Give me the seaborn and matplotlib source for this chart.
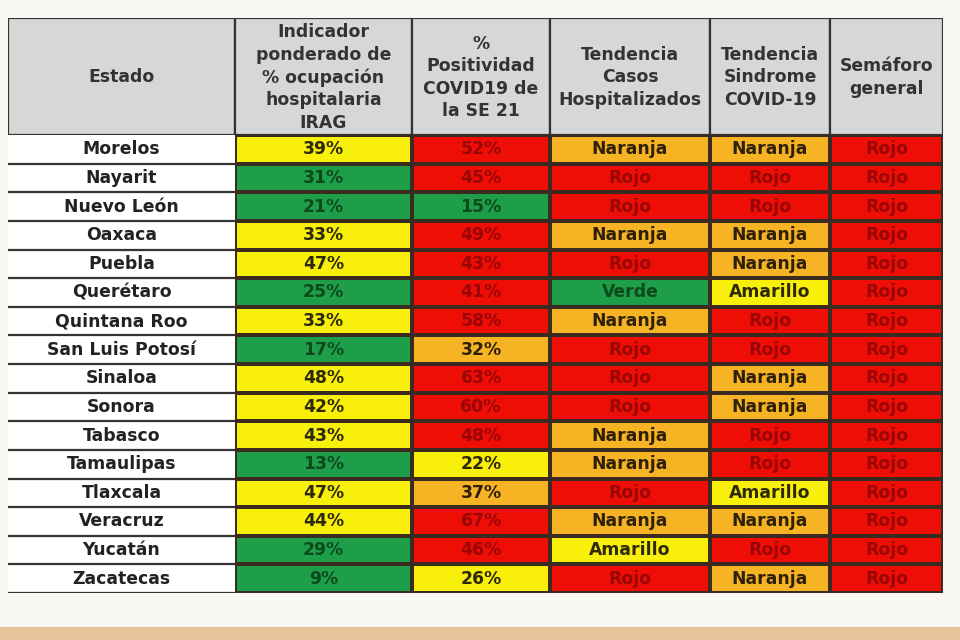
import numpy as np
import pandas as pd
import matplotlib
matplotlib.use("Agg")
import matplotlib.pyplot as plt
from matplotlib.colors import ListedColormap
from matplotlib.patches import Rectangle
import seaborn as sns

sns.set_theme(style="white")
plt.rcParams["font.family"] = ["DejaVu Sans"]

# ---------------- data ----------------
estados = ["Morelos", "Nayarit", "Nuevo León", "Oaxaca", "Puebla", "Querétaro",
           "Quintana Roo", "San Luis Potosí", "Sinaloa", "Sonora", "Tabasco",
           "Tamaulipas", "Tlaxcala", "Veracruz", "Yucatán", "Zacatecas"]
ocupacion = [39, 31, 21, 33, 47, 25, 33, 17, 48, 42, 43, 13, 47, 44, 29, 9]
ocupacion_nivel = ["Amarillo", "Verde", "Verde", "Amarillo", "Amarillo", "Verde",
                   "Amarillo", "Verde", "Amarillo", "Amarillo", "Amarillo", "Verde",
                   "Amarillo", "Amarillo", "Verde", "Verde"]
positividad = [52, 45, 15, 49, 43, 41, 58, 32, 63, 60, 48, 22, 37, 67, 46, 26]
positividad_nivel = ["Rojo", "Rojo", "Verde", "Rojo", "Rojo", "Rojo", "Rojo", "Naranja",
                     "Rojo", "Rojo", "Rojo", "Amarillo", "Naranja", "Rojo", "Rojo",
                     "Amarillo"]
tendencia_casos = ["Naranja", "Rojo", "Rojo", "Naranja", "Rojo", "Verde", "Naranja",
                   "Rojo", "Rojo", "Rojo", "Naranja", "Naranja", "Rojo", "Naranja",
                   "Amarillo", "Rojo"]
tendencia_sindrome = ["Naranja", "Rojo", "Rojo", "Naranja", "Naranja", "Amarillo", "Rojo",
                      "Rojo", "Naranja", "Naranja", "Rojo", "Rojo", "Amarillo",
                      "Naranja", "Rojo", "Naranja"]
semaforo = ["Rojo"] * 16

encabezados = ["Estado",
               "Indicador\nponderado de\n% ocupación\nhospitalaria\nIRAG",
               "%\nPositividad\nCOVID19 de\nla SE 21",
               "Tendencia\nCasos\nHospitalizados",
               "Tendencia\nSindrome\nCOVID-19",
               "Semáforo\ngeneral"]

niveles = ["Verde", "Amarillo", "Naranja", "Rojo"]
colores = ["#1E9E49", "#F8F00A", "#F6B324", "#EE0E06"]
texto_color = {"Verde": "#0C4A1E", "Amarillo": "#2E2A08", "Naranja": "#2E2108",
               "Rojo": "#9A0505"}

# ---------------- layout (pixels) ----------------
W, H = 960, 640
col_edges = [8, 235, 412, 550, 710, 830, 943]
head_top, body_top, body_bot = 18, 135, 593

fig = plt.figure(figsize=(9.6, 6.4), dpi=100)
fig.patch.set_facecolor("#F8F7F2")

# bottom decorative band
band = fig.add_axes([0, 0, 1, 13 / H])
band.set_axis_off()
band.add_patch(Rectangle((0, 0), 1, 1, color="#E5C39B", transform=band.transAxes))


def fx(px):
    return px / W


def fy(py):
    return 1 - py / H


# header
hax = fig.add_axes([fx(col_edges[0]), fy(body_top), fx(col_edges[-1] - col_edges[0]),
                    (body_top - head_top) / H])
hax.set_xlim(col_edges[0], col_edges[-1])
hax.set_ylim(body_top, head_top)
hax.set_axis_off()
for i, txt in enumerate(encabezados):
    x0, x1 = col_edges[i], col_edges[i + 1]
    hax.add_patch(Rectangle((x0, head_top), x1 - x0, body_top - head_top,
                            facecolor="#D7D7D7", edgecolor="#333333", lw=1.6))
    hax.text((x0 + x1) / 2, (head_top + body_top) / 2 + 1, txt, ha="center",
             va="center", fontsize=12.4, fontweight="bold", color="#333333",
             linespacing=1.33)

# body columns
n = len(estados)
columnas = [
    (None, estados),
    (ocupacion_nivel, [f"{v}%" for v in ocupacion]),
    (positividad_nivel, [f"{v}%" for v in positividad]),
    (tendencia_casos, tendencia_casos),
    (tendencia_sindrome, tendencia_sindrome),
    (semaforo, semaforo),
]

cmap = ListedColormap(colores)
for i, (nivel, etiquetas) in enumerate(columnas):
    x0, x1 = col_edges[i], col_edges[i + 1]
    ax = fig.add_axes([fx(x0), fy(body_bot), fx(x1 - x0), (body_bot - body_top) / H])
    lab = np.array(etiquetas, dtype=object).reshape(n, 1)
    if nivel is None:
        df = pd.DataFrame({"v": np.zeros(n)}, index=estados)
        sns.heatmap(df, ax=ax, cmap=ListedColormap(["#FFFFFF"]), cbar=False,
                    annot=lab, fmt="", linewidths=0,
                    annot_kws={"fontsize": 12.4, "fontweight": "bold",
                               "color": "#222222"})
        for k in range(1, n + 1):
            ax.axhline(k, color="#333333", lw=1.6)
    else:
        codes = np.array([niveles.index(v) for v in nivel], dtype=float).reshape(n, 1)
        sns.heatmap(codes, ax=ax, cmap=cmap, vmin=-0.5, vmax=3.5, cbar=False,
                    annot=lab, fmt="", linewidths=1.6, linecolor="#3A2A20",
                    annot_kws={"fontsize": 12.4, "fontweight": "bold"})
        for t, nv in zip(ax.texts, nivel):
            t.set_color(texto_color[nv])
    ax.set_xticks([])
    ax.set_yticks([])
    ax.set_xlabel("")
    ax.set_ylabel("")
    for s in ax.spines.values():
        s.set_visible(False)

fig.savefig("out.png", dpi=100, facecolor=fig.get_facecolor())
